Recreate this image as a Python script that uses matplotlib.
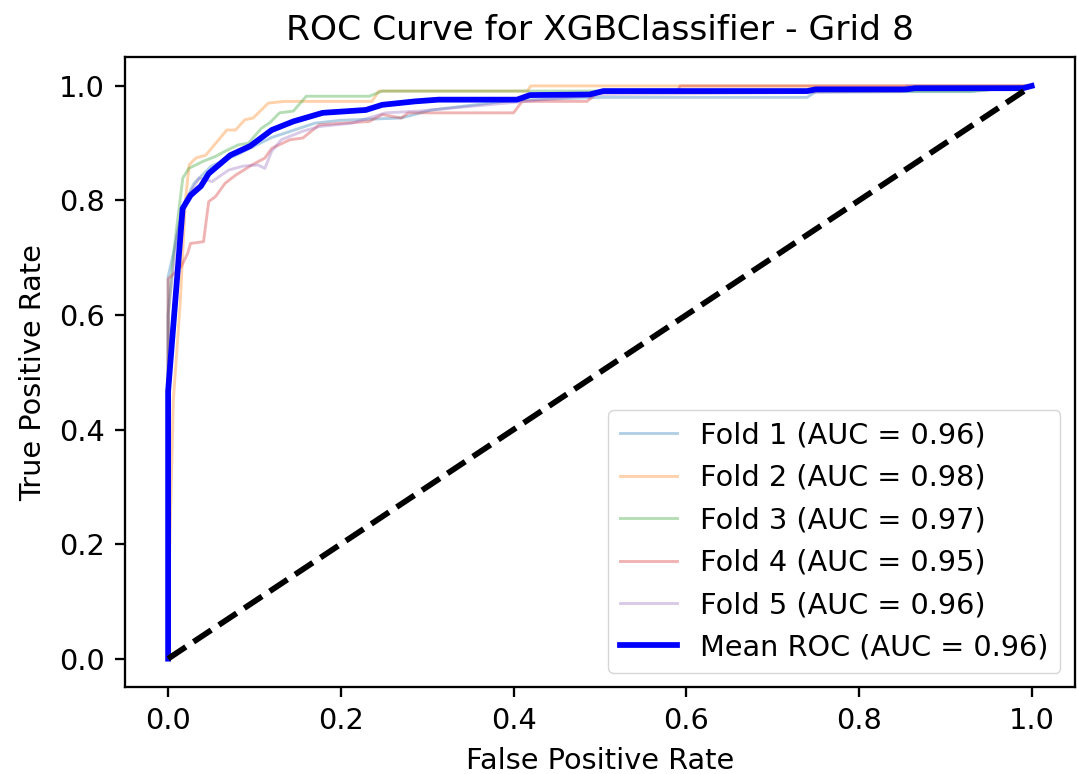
import matplotlib.pyplot as plt
import numpy as np

# fold ROC points (fpr, tpr)
fold1_fpr = [0.0, 0.0, 0.008, 0.017, 0.03, 0.05, 0.08, 0.12, 0.17, 0.2, 0.27, 0.305, 0.4, 0.5, 0.74, 0.75, 0.93, 1.0]
fold1_tpr = [0.0, 0.667, 0.72, 0.79, 0.83, 0.86, 0.88, 0.91, 0.935, 0.94, 0.944, 0.958, 0.975, 0.98, 0.98, 0.99, 0.99, 1.0]

fold2_fpr = [0.0, 0.002, 0.006, 0.014, 0.02, 0.0244, 0.032, 0.0435, 0.068, 0.078, 0.089, 0.0985, 0.116, 0.135, 0.236, 0.244, 0.416, 0.42, 1.0]
fold2_tpr = [0.0, 0.2, 0.45, 0.62, 0.8, 0.862, 0.874, 0.879, 0.923, 0.923, 0.941, 0.944, 0.97, 0.973, 0.973, 0.991, 0.991, 1.0, 1.0]

fold3_fpr = [0.0, 0.0, 0.007, 0.017, 0.024, 0.04, 0.055, 0.066, 0.081, 0.093, 0.108, 0.118, 0.129, 0.145, 0.16, 0.233, 0.248, 0.93, 1.0]
fold3_tpr = [0.0, 0.6, 0.716, 0.839, 0.856, 0.868, 0.877, 0.886, 0.897, 0.9, 0.926, 0.936, 0.953, 0.956, 0.982, 0.982, 0.991, 0.991, 1.0]

fold4_fpr = [0.0, 0.0, 0.0, 0.015, 0.0225, 0.026, 0.041, 0.047, 0.055, 0.066, 0.078, 0.097, 0.112, 0.12, 0.141, 0.156, 0.175, 0.233,
             0.248, 0.27, 0.278, 0.40, 0.41, 0.485, 0.50, 0.59, 0.593, 1.0]
fold4_tpr = [0.0, 0.47, 0.663, 0.684, 0.707, 0.725, 0.728, 0.798, 0.807, 0.83, 0.844, 0.862, 0.874, 0.891, 0.906, 0.909, 0.932, 0.938,
             0.95, 0.944, 0.953, 0.953, 0.973, 0.973, 0.991, 0.991, 1.0, 1.0]

fold5_fpr = [0.0, 0.0, 0.01, 0.02, 0.036, 0.051, 0.07, 0.087, 0.104, 0.112, 0.12, 0.131, 0.156, 0.175, 0.213, 0.252, 0.29, 0.5, 0.85, 0.855, 1.0]
fold5_tpr = [0.0, 0.6, 0.74, 0.8, 0.839, 0.833, 0.853, 0.86, 0.862, 0.856, 0.886, 0.906, 0.921, 0.929, 0.935, 0.953, 0.956, 0.985, 0.99, 1.0, 1.0]

mean_fpr = [0.0, 0.0, 0.0168, 0.026, 0.038, 0.047, 0.072, 0.095, 0.12, 0.145, 0.179, 0.229, 0.248, 0.286, 0.313, 0.404, 0.419, 0.488,
            0.504, 0.534, 0.74, 0.75, 0.855, 0.865, 0.99, 1.0]
mean_tpr = [0.0, 0.467, 0.786, 0.809, 0.825, 0.847, 0.879, 0.895, 0.923, 0.938, 0.953, 0.958, 0.967, 0.973, 0.976, 0.976, 0.984, 0.985,
            0.991, 0.991, 0.991, 0.994, 0.994, 0.996, 0.996, 1.0]

fold_aucs = [0.96, 0.98, 0.97, 0.95, 0.96]
mean_auc = 0.96

folds = [(fold1_fpr, fold1_tpr), (fold2_fpr, fold2_tpr), (fold3_fpr, fold3_tpr),
         (fold4_fpr, fold4_tpr), (fold5_fpr, fold5_tpr)]

s = 2.07  # scale: the reference is an enlarged small figure
plt.rcParams['axes.linewidth'] = 0.8 * s
plt.rcParams['xtick.major.width'] = 0.8 * s
plt.rcParams['ytick.major.width'] = 0.8 * s
plt.rcParams['xtick.major.size'] = 3.5 * s
plt.rcParams['ytick.major.size'] = 3.5 * s
plt.rcParams['xtick.major.pad'] = 3.5 * s
plt.rcParams['ytick.major.pad'] = 3.5 * s

fig = plt.figure(figsize=(10.77, 7.74), dpi=100)
ax = fig.add_axes([0.116, 0.112, 0.882, 0.814])

for i, (fpr, tpr) in enumerate(folds):
    ax.plot(fpr, tpr, lw=1 * s, alpha=0.35, label=f'Fold {i + 1} (AUC = {fold_aucs[i]:.2f})')

ax.plot(mean_fpr, mean_tpr, color='blue', lw=2 * s, label=f'Mean ROC (AUC = {mean_auc:.2f})')
ax.plot([0, 1], [0, 1], 'k--', lw=2 * s)

ax.set_xticks(np.arange(0, 1.01, 0.2))
ax.set_yticks(np.arange(0, 1.01, 0.2))
ax.tick_params(labelsize=10 * s)
ax.set_xlabel('False Positive Rate', fontsize=10 * s, labelpad=4 * s)
ax.set_ylabel('True Positive Rate', fontsize=10 * s, labelpad=4 * s)
ax.set_title('ROC Curve for XGBClassifier - Grid 8', fontsize=12 * s, pad=6 * s)
ax.legend(loc='lower right', fontsize=10 * s)

fig.savefig('out.png', dpi=100)
